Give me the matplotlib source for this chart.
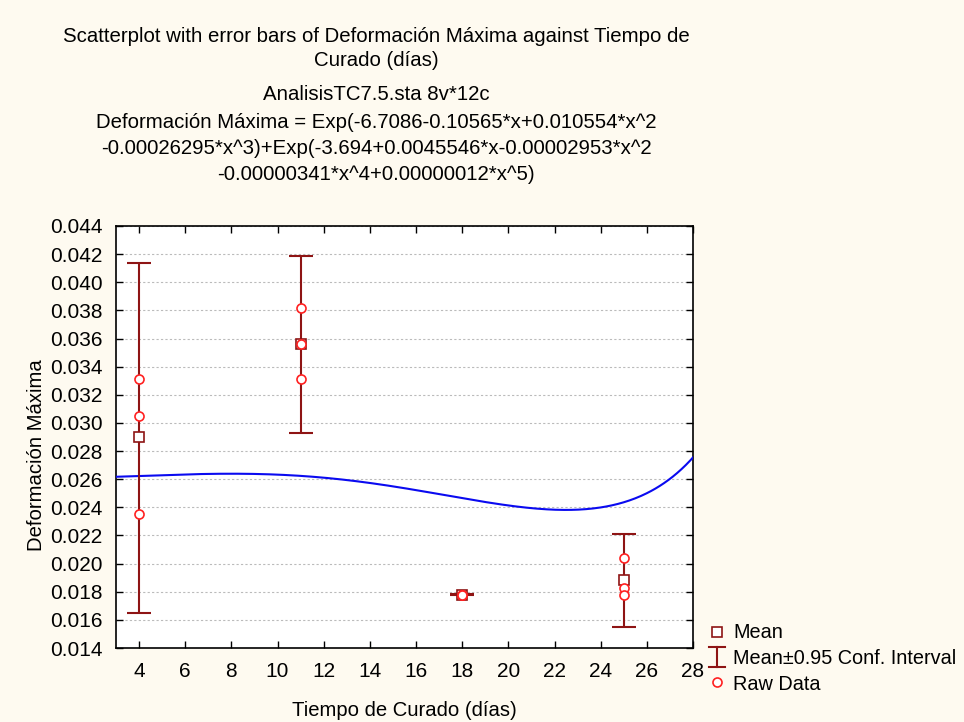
import numpy as np
import matplotlib
matplotlib.use("Agg")
import matplotlib.pyplot as plt
from matplotlib.lines import Line2D

plt.rcParams['font.family'] = ['Liberation Sans', 'DejaVu Sans']

# Curing time groups and measurements
tiempo = [4, 11, 18, 25]
raw_x = [4, 4, 4, 11, 11, 11, 18, 18, 18, 25, 25, 25]
raw_y = [0.0331, 0.0305, 0.0235,
         0.0382, 0.0356, 0.0331,
         0.0178, 0.0178, 0.0178,
         0.0204, 0.0183, 0.0178]
media = [0.0290, 0.0356, 0.0178, 0.0188]
ci_low = [0.0165, 0.0293, 0.01775, 0.0155]
ci_high = [0.0414, 0.0419, 0.01787, 0.0221]

# Fitted model coefficients
c1 = [-6.7086, -0.10565, 0.010554, -0.00026295]
c2 = [-3.694, 0.0045546, -0.00002953, -0.00000341, 0.00000012]

xticks = [4, 6, 8, 10, 12, 14, 16, 18, 20, 22, 24, 26, 28]
yticks = [0.014, 0.016, 0.018, 0.020, 0.022, 0.024, 0.026, 0.028, 0.030,
          0.032, 0.034, 0.036, 0.038, 0.040, 0.042, 0.044]

titulo = ["Scatterplot with error bars of Deformación Máxima against Tiempo de",
          "Curado (días)",
          "AnalisisTC7.5.sta 8v*12c",
          "Deformación Máxima = Exp(-6.7086-0.10565*x+0.010554*x^2",
          "-0.00026295*x^3)+Exp(-3.694+0.0045546*x-0.00002953*x^2",
          "-0.00000341*x^4+0.00000012*x^5)"]

bg = '#FEFAF0'
dark_red = '#8E1414'
red = '#FF2020'

fig = plt.figure(figsize=(9.64, 7.22), dpi=100, facecolor=bg)
ax = fig.add_axes([116/964, 1 - 648/722, (693 - 116)/964, (648 - 226)/722])
ax.set_facecolor('white')

# Fitted curve
xs = np.linspace(3, 28, 400)
f1 = c1[0] + c1[1]*xs + c1[2]*xs**2 + c1[3]*xs**3
f2 = c2[0] + c2[1]*xs + c2[2]*xs**2 + c2[3]*xs**4 + c2[4]*xs**5
ax.plot(xs, np.exp(f1) + np.exp(f2), color='#0A0AF0', lw=1.5, zorder=3)

# Confidence intervals
media_a = np.array(media)
yerr = [media_a - np.array(ci_low), np.array(ci_high) - media_a]
ax.errorbar(tiempo, media, yerr=yerr, fmt='none', ecolor=dark_red,
            elinewidth=1.5, capsize=8.5, capthick=1.5, zorder=4)

# Means and raw observations
ax.plot(tiempo, media, 's', ms=6.5, mfc='white', mec=dark_red, mew=1.2, zorder=5)
ax.plot(raw_x, raw_y, 'o', ms=6.5, mfc='white', mec=red, mew=1.2, zorder=6)

ax.set_xlim(3, 28)
ax.set_ylim(0.014, 0.044)
ax.set_xticks(xticks)
ax.set_yticks(yticks)
ax.set_yticklabels([f"{v:.3f}" for v in yticks])
ax.tick_params(direction='in', top=True, right=True, labelsize=15, length=5,
               width=1)
ax.tick_params(axis='x', pad=10)
ax.tick_params(axis='y', pad=9.5)
ax.yaxis.grid(True, linestyle=(0, (2, 2)), color='#BBBBBB', lw=0.8)
ax.set_axisbelow(True)
for s in ax.spines.values():
    s.set_linewidth(1.2)

ax.set_xlabel("Tiempo de Curado (días)", fontsize=14.6)
ax.set_ylabel("Deformación Máxima", fontsize=14.6)
ax.xaxis.set_label_coords((404 - 116)/577, -(710 - 648)/422)
ax.yaxis.set_label_coords((37 - 116)/577, (648 - 455)/422)
ax.xaxis.label.set_va('center')
ax.yaxis.label.set_va('center')

# Title block
ys = [37, 61, 95, 122, 149, 174]
for t, y in zip(titulo, ys):
    fig.text(376/964, 1 - y/722, t, ha='center', va='center', fontsize=14.7)

# Legend
lx = 717/964
tx = 733/964
fs_leg = 14.3
fig.add_artist(Line2D([lx], [1 - 632/722], marker='s', ms=6.5, mfc='white',
                      mec=dark_red, mew=1.2, transform=fig.transFigure))
fig.text(tx, 1 - 633/722, "Mean", va='center', fontsize=fs_leg)
fig.add_artist(Line2D([lx, lx], [1 - 647/722, 1 - 667/722], color=dark_red,
                      lw=1.5, transform=fig.transFigure))
for yy in (647, 667):
    fig.add_artist(Line2D([lx - 8/964, lx + 8/964], [1 - yy/722, 1 - yy/722],
                          color=dark_red, lw=1.5, transform=fig.transFigure))
fig.text(tx, 1 - 658/722, "Mean±0.95 Conf. Interval", va='center', fontsize=fs_leg)
fig.add_artist(Line2D([lx], [1 - 682/722], marker='o', ms=6.5, mfc='white',
                      mec=red, mew=1.2, transform=fig.transFigure))
fig.text(tx, 1 - 684/722, "Raw Data", va='center', fontsize=fs_leg)

fig.savefig("out.png", dpi=100, facecolor=bg)
